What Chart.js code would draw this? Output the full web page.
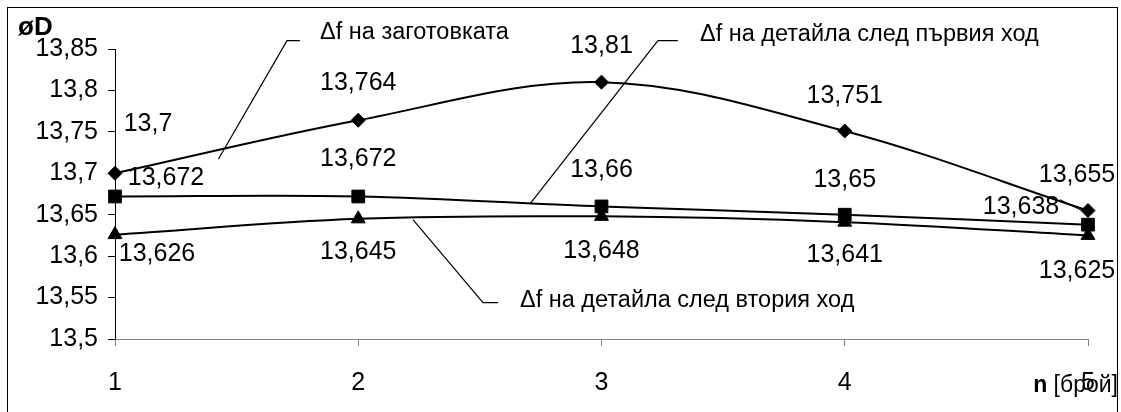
<!DOCTYPE html>
<html>
<head>
<meta charset="utf-8">
<script src="https://cdn.jsdelivr.net/npm/chart.js@4/dist/chart.umd.min.js"></script>
<style>
  html, body { margin: 0; padding: 0; background: #fff; overflow: hidden; }
  canvas { display: block; }
</style>
</head>
<body>
<canvas id="c" width="1121" height="412"></canvas>
<script>
// Pass number n and measured diameter øD for each stage
const passes = ['1', '2', '3', '4', '5'];
const blankDiameter = [13.7, 13.764, 13.81, 13.751, 13.655];
const firstPassDiameter = [13.672, 13.672, 13.66, 13.65, 13.638];
const secondPassDiameter = [13.626, 13.645, 13.648, 13.641, 13.625];
const yTickValues = [13.5, 13.55, 13.6, 13.65, 13.7, 13.75, 13.8, 13.85];
const seriesNames = [
  'Δf на заготовката',
  'Δf на детайла след първия ход',
  'Δf на детайла след втория ход'
];

// Where each value label sits relative to its point (px)
const labelOffsets = [
  [[33, -49], [0, -37], [0, -36], [0, -35], [-11, -35]],
  [[51, -18], [0, -37], [0, -36], [0, -35], [-67, -18]],
  [[42, 20], [0, 33], [0, 35], [0, 33], [-11, 36]]
];

// Callout leader lines for the series names, in axis units:
// [start on curve, elbow, end of shelf, text start]
const callouts = [
  { pts: [[1.425, 13.717], [1.707, 13.86], [1.76, 13.86]], text: [1.843, 13.870] },
  { pts: [[2.706, 13.663], [3.232, 13.86], [3.314, 13.86]], text: [3.405, 13.868] },
  { pts: [[2.225, 13.644], [2.513, 13.544], [2.575, 13.544]], text: [2.665, 13.546] }
];

const FONT = '"Liberation Sans", Arial, sans-serif';
const NUM_SIZE = 25;
const fmt = v => String(Number(v.toFixed(3))).replace('.', ',');

const frameAndTitles = {
  id: 'frameAndTitles',
  beforeDraw(chart) {
    const ctx = chart.ctx;
    ctx.save();
    ctx.fillStyle = '#fff';
    ctx.fillRect(0, 0, chart.width, chart.height);
    ctx.restore();
  },
  afterDraw(chart) {
    const ctx = chart.ctx;
    ctx.save();
    ctx.strokeStyle = '#000';
    ctx.lineWidth = 1;
    ctx.strokeRect(7.5, 7.5, 1110, 430);
    ctx.fillStyle = '#000';
    ctx.textBaseline = 'middle';
    ctx.textAlign = 'left';
    ctx.font = 'bold 26px ' + FONT;
    ctx.fillText('øD', 18, 28);
    // x-axis title: bold "n" followed by the unit
    const unit = ' [брой]';
    ctx.font = '23px ' + FONT;
    const wUnit = ctx.measureText(unit).width;
    ctx.font = 'bold 23px ' + FONT;
    const wN = ctx.measureText('n').width;
    const right = 1118;
    ctx.fillText('n', right - wUnit - wN, 386);
    ctx.font = '23px ' + FONT;
    ctx.fillText(unit, right - wUnit, 386);
    ctx.restore();
  }
};

const calloutPlugin = {
  id: 'calloutPlugin',
  afterDatasetsDraw(chart) {
    const ctx = chart.ctx;
    const xs = chart.scales.x, ys = chart.scales.y;
    const px = v => xs.getPixelForValue(v - 1);
    const py = v => ys.getPixelForValue(v);
    ctx.save();
    ctx.strokeStyle = '#000';
    ctx.lineWidth = 1.2;
    ctx.fillStyle = '#000';
    ctx.font = '23.5px ' + FONT;
    ctx.textAlign = 'left';
    ctx.textBaseline = 'middle';
    callouts.forEach((c, i) => {
      ctx.beginPath();
      c.pts.forEach((p, k) => {
        const X = px(p[0]), Y = py(p[1]);
        if (k === 0) ctx.moveTo(X, Y); else ctx.lineTo(X, Y);
      });
      ctx.stroke();
      ctx.fillText(seriesNames[i], px(c.text[0]), py(c.text[1]));
    });
    ctx.restore();
  }
};

const valueLabels = {
  id: 'valueLabels',
  afterDatasetsDraw(chart) {
    const ctx = chart.ctx;
    ctx.save();
    ctx.fillStyle = '#000';
    ctx.strokeStyle = '#000';
    ctx.lineWidth = 1;
    ctx.font = NUM_SIZE + 'px ' + FONT;
    ctx.textAlign = 'center';
    ctx.textBaseline = 'middle';
    chart.data.datasets.forEach((ds, di) => {
      const meta = chart.getDatasetMeta(di);
      meta.data.forEach((pt, i) => {
        const [dx, dy] = labelOffsets[di][i];
        const lx = pt.x + dx, ly = pt.y + dy;
        const txt = fmt(ds.data[i]);
        ctx.fillText(txt, lx, ly);
        if (di === 1 && i === ds.data.length - 1) {
          // short leader from the crowded last label to its point
          const w = ctx.measureText(txt).width;
          ctx.beginPath();
          ctx.moveTo(lx + w / 2 + 1, ly - 7);
          ctx.lineTo(pt.x - 4, pt.y - 13);
          ctx.stroke();
        }
      });
    });
    ctx.restore();
  }
};

const series = [
  { data: blankDiameter, pointStyle: 'rectRot', pointRadius: 7 },
  { data: firstPassDiameter, pointStyle: 'rect', pointRadius: 9 },
  { data: secondPassDiameter, pointStyle: 'triangle', pointRadius: 8 }
];

new Chart(document.getElementById('c'), {
  type: 'line',
  data: {
    labels: passes,
    datasets: series.map((s, i) => ({
      label: seriesNames[i],
      data: s.data,
      borderColor: '#000',
      backgroundColor: '#000',
      borderWidth: 2,
      tension: 0.35,
      pointStyle: s.pointStyle,
      pointRadius: s.pointRadius,
      pointBackgroundColor: '#000',
      pointBorderColor: '#000',
      pointBorderWidth: 1,
      clip: false
    }))
  },
  options: {
    responsive: false,
    animation: false,
    devicePixelRatio: 1,
    layout: { padding: { left: 0, top: 49, right: 33, bottom: 0 } },
    plugins: { legend: { display: false }, tooltip: { enabled: false } },
    scales: {
      x: {
        type: 'category',
        offset: false,
        grid: { display: true, drawOnChartArea: false, drawTicks: true, tickLength: 7, color: '#808080', lineWidth: 1 },
        border: { display: true, color: '#808080', width: 1 },
        ticks: { color: '#000', font: { family: FONT, size: NUM_SIZE }, padding: 22, maxRotation: 0 },
        afterFit(scale) { scale.height = 73; }
      },
      y: {
        min: 13.5,
        max: 13.85,
        grid: { display: true, drawOnChartArea: false, drawTicks: true, tickLength: 7, color: '#000', lineWidth: 1 },
        border: { display: true, color: '#000', width: 1 },
        ticks: { color: '#000', font: { family: FONT, size: NUM_SIZE }, padding: 10, callback: v => fmt(v) },
        afterBuildTicks(scale) { scale.ticks = yTickValues.map(v => ({ value: v })); },
        afterFit(scale) { scale.width = 115; }
      }
    }
  },
  plugins: [frameAndTitles, calloutPlugin, valueLabels]
});
</script>
</body>
</html>
